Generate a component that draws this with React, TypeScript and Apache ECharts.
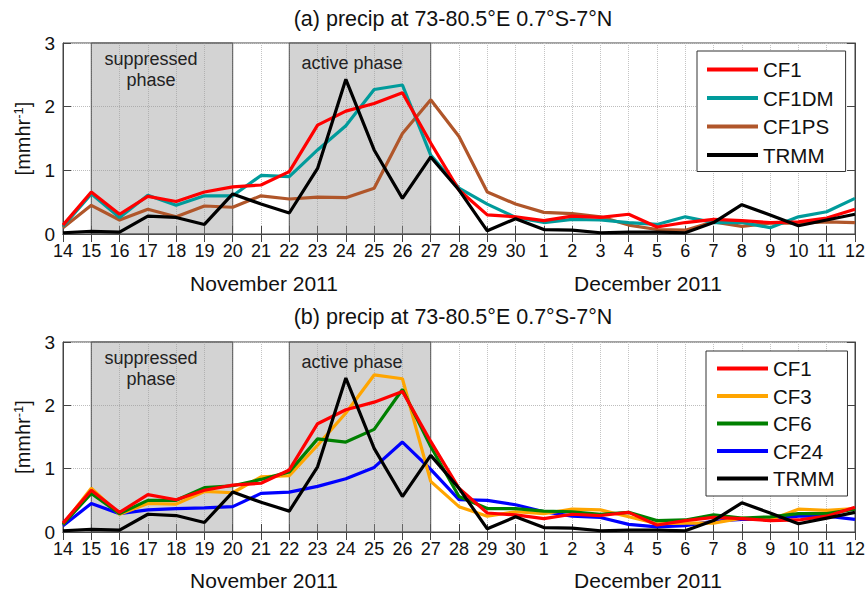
import React, { useEffect, useRef } from "react";
import * as echarts from "echarts";

const days = ["14","15","16","17","18","19","20","21","22","23","24","25","26","27","28","29","30","1","2","3","4","5","6","7","8","9","10","11","12"];

const cf1 = [0.14,0.66,0.31,0.59,0.51,0.66,0.74,0.77,0.98,1.71,1.93,2.05,2.22,1.43,0.69,0.30,0.27,0.21,0.28,0.26,0.31,0.11,0.18,0.23,0.21,0.18,0.19,0.25,0.39];
const cf1dm = [0.12,0.63,0.26,0.61,0.45,0.60,0.60,0.92,0.90,1.32,1.70,2.27,2.34,1.24,0.72,0.47,0.26,0.18,0.23,0.22,0.18,0.15,0.27,0.18,0.18,0.10,0.27,0.35,0.56];
const cf1ps = [0.10,0.45,0.22,0.39,0.27,0.44,0.42,0.60,0.55,0.58,0.57,0.72,1.58,2.11,1.53,0.66,0.47,0.34,0.32,0.27,0.14,0.07,0.06,0.19,0.12,0.17,0.17,0.19,0.18];
const trmm = [0.02,0.04,0.03,0.28,0.26,0.15,0.63,0.47,0.33,1.03,2.43,1.32,0.56,1.21,0.69,0.05,0.24,0.07,0.06,0.02,0.03,0.03,0.02,0.18,0.46,0.30,0.13,0.22,0.31];
const cf3 = [0.12,0.69,0.28,0.45,0.44,0.64,0.62,0.87,0.89,1.37,1.88,2.48,2.42,0.80,0.40,0.25,0.32,0.29,0.36,0.35,0.24,0.13,0.14,0.14,0.22,0.19,0.36,0.34,0.37];
const cf6 = [0.12,0.61,0.29,0.50,0.50,0.70,0.73,0.83,0.95,1.47,1.42,1.62,2.25,1.35,0.56,0.37,0.37,0.33,0.32,0.28,0.31,0.18,0.19,0.27,0.22,0.24,0.29,0.29,0.36];
const cf24 = [0.10,0.45,0.29,0.35,0.37,0.38,0.40,0.61,0.63,0.72,0.84,1.02,1.42,0.99,0.51,0.50,0.43,0.32,0.25,0.23,0.12,0.08,0.10,0.17,0.20,0.20,0.25,0.25,0.20];

const legendA = ["CF1", "CF1DM", "CF1PS", "TRMM"];
const legendB = ["CF1", "CF3", "CF6", "CF24", "TRMM"];
const yTicks = [0, 1, 2, 3];
const suppressedRange = ["15", "20"];
const activeRange = ["22", "27"];

const FONT = "'Liberation Sans', Arial, Helvetica, sans-serif";

const colors: Record<string, string> = {
  CF1: "#ff0000",
  CF1DM: "#009b9b",
  CF1PS: "#b0562a",
  TRMM: "#000000",
  CF3: "#ffa500",
  CF6: "#008000",
  CF24: "#0000ff",
};

function lineSeries(name: string, data: number[], idx: number) {
  return {
    type: "line",
    name,
    data,
    xAxisIndex: idx * 2,
    yAxisIndex: idx * 2,
    symbol: "none",
    z: 3,
    lineStyle: { color: colors[name], width: 3.2 },
    itemStyle: { color: colors[name] },
  };
}

function shadeSeries(idx: number) {
  return {
    type: "line",
    name: "shade" + idx,
    data: days.map(() => null),
    xAxisIndex: idx * 2,
    yAxisIndex: idx * 2,
    symbol: "none",
    z: 1,
    silent: true,
    markArea: {
      silent: true,
      itemStyle: { color: "rgba(150,150,150,0.42)", borderColor: "#555", borderWidth: 1 },
      label: {
        position: "insideTop",
        fontSize: 18,
        color: "#222",
        fontFamily: FONT,
        lineHeight: 21,
      },
      data: [
        [
          { xAxis: suppressedRange[0], yAxis: 0, name: "suppressed\nphase", label: { distance: 6, offset: [-11, 0] } },
          { xAxis: suppressedRange[1], yAxis: 3 },
        ],
        [
          { xAxis: activeRange[0], yAxis: 0, name: "active phase", label: { distance: 10, offset: [-8, 0] } },
          { xAxis: activeRange[1], yAxis: 3 },
        ],
      ],
    },
  };
}

function xAxes(gridIndex: number) {
  const tick = { show: true, inside: true, length: 8, interval: 0, lineStyle: { color: "#444" } };
  return [
    {
      type: "category",
      gridIndex,
      data: days,
      boundaryGap: false,
      axisLine: { lineStyle: { color: "#444" } },
      axisTick: tick,
      axisLabel: { interval: 0, fontSize: 18, color: "#111", margin: 8, fontFamily: FONT },
      splitLine: { show: true, interval: 0, lineStyle: { type: "dotted", color: "#c4c4c4" } },
    },
    {
      type: "category",
      gridIndex,
      position: "top",
      data: days,
      boundaryGap: false,
      axisLine: { lineStyle: { color: "#444" } },
      axisTick: tick,
      axisLabel: { show: false },
      splitLine: { show: false },
    },
  ];
}

function yAxes(gridIndex: number) {
  const tick = { show: true, inside: true, length: 8, lineStyle: { color: "#444" } };
  return [
    {
      type: "value",
      gridIndex,
      min: yTicks[0],
      max: yTicks[yTicks.length - 1],
      interval: 1,
      axisLine: { show: true, lineStyle: { color: "#444" } },
      axisTick: tick,
      axisLabel: { fontSize: 19, color: "#111", margin: 8, fontFamily: FONT },
      splitLine: { show: true, lineStyle: { type: "dotted", color: "#bdbdbd" } },
      name: "[mmhr{sup|-1}]",
      nameLocation: "middle",
      nameGap: 29,
      nameTextStyle: {
        fontSize: 20,
        color: "#111",
        fontFamily: FONT,
        rich: { sup: { fontSize: 13, verticalAlign: "top", padding: [0, 0, 9, 0], fontFamily: FONT, color: "#111" } },
      },
    },
    {
      type: "value",
      gridIndex,
      position: "right",
      min: yTicks[0],
      max: yTicks[yTicks.length - 1],
      interval: 1,
      axisLine: { show: true, lineStyle: { color: "#444" } },
      axisTick: tick,
      axisLabel: { show: false },
      splitLine: { show: false },
    },
  ];
}

function legend(data: string[], left: number, top: number, padding: number[], gap: number) {
  return {
    data,
    orient: "vertical",
    left,
    top,
    padding,
    itemGap: gap,
    itemWidth: 51,
    itemHeight: 4,
    icon: "rect",
    borderColor: "#333",
    borderWidth: 1,
    borderRadius: 0,
    backgroundColor: "#fff",
    selectedMode: false,
    textStyle: { fontSize: 20.5, color: "#111", fontFamily: FONT },
  };
}

function text(str: string, x: number, y: number, size: number) {
  return {
    type: "text",
    x,
    y,
    style: { text: str, fontSize: size, fontFamily: FONT, fill: "#111", align: "center", verticalAlign: "middle" },
  };
}

export default function App() {
  const ref = useRef<HTMLDivElement>(null);
  useEffect(() => {
    const chart = echarts.init(ref.current!, null, { renderer: "svg" });
    const option = {
      animation: false,
      textStyle: { fontFamily: FONT },
      grid: [
        { left: 63, top: 43, width: 792, height: 191, show: true, borderColor: "#444", borderWidth: 1, backgroundColor: "transparent" },
        { left: 63, top: 342, width: 792, height: 190, show: true, borderColor: "#444", borderWidth: 1, backgroundColor: "transparent" },
      ],
      xAxis: [...xAxes(0), ...xAxes(1)],
      yAxis: [...yAxes(0), ...yAxes(1)],
      legend: [legend(legendA, 697, 51, [8, 12, 6, 10], 7.5), legend(legendB, 706, 351, [7, 13, 7, 11], 6.5)],
      graphic: [
        text("(a) precip at 73-80.5°E 0.7°S-7°N", 453, 19, 21.5),
        text("(b) precip at 73-80.5°E 0.7°S-7°N", 453, 317, 21.5),
        text("November 2011", 264, 283, 21),
        text("December 2011", 648, 283, 21),
        text("November 2011", 264, 580, 21),
        text("December 2011", 648, 580, 21),
      ],
      series: [
        shadeSeries(0),
        lineSeries("CF1PS", cf1ps, 0),
        lineSeries("CF1DM", cf1dm, 0),
        lineSeries("CF1", cf1, 0),
        lineSeries("TRMM", trmm, 0),
        shadeSeries(1),
        lineSeries("CF24", cf24, 1),
        lineSeries("CF3", cf3, 1),
        lineSeries("CF6", cf6, 1),
        lineSeries("CF1", cf1, 1),
        lineSeries("TRMM", trmm, 1),
      ],
    };
    chart.setOption(option as any);
    return () => chart.dispose();
  }, []);
  return <div ref={ref} style={{ position: "absolute", left: 0, top: 0, width: 868, height: 595 }} />;
}
